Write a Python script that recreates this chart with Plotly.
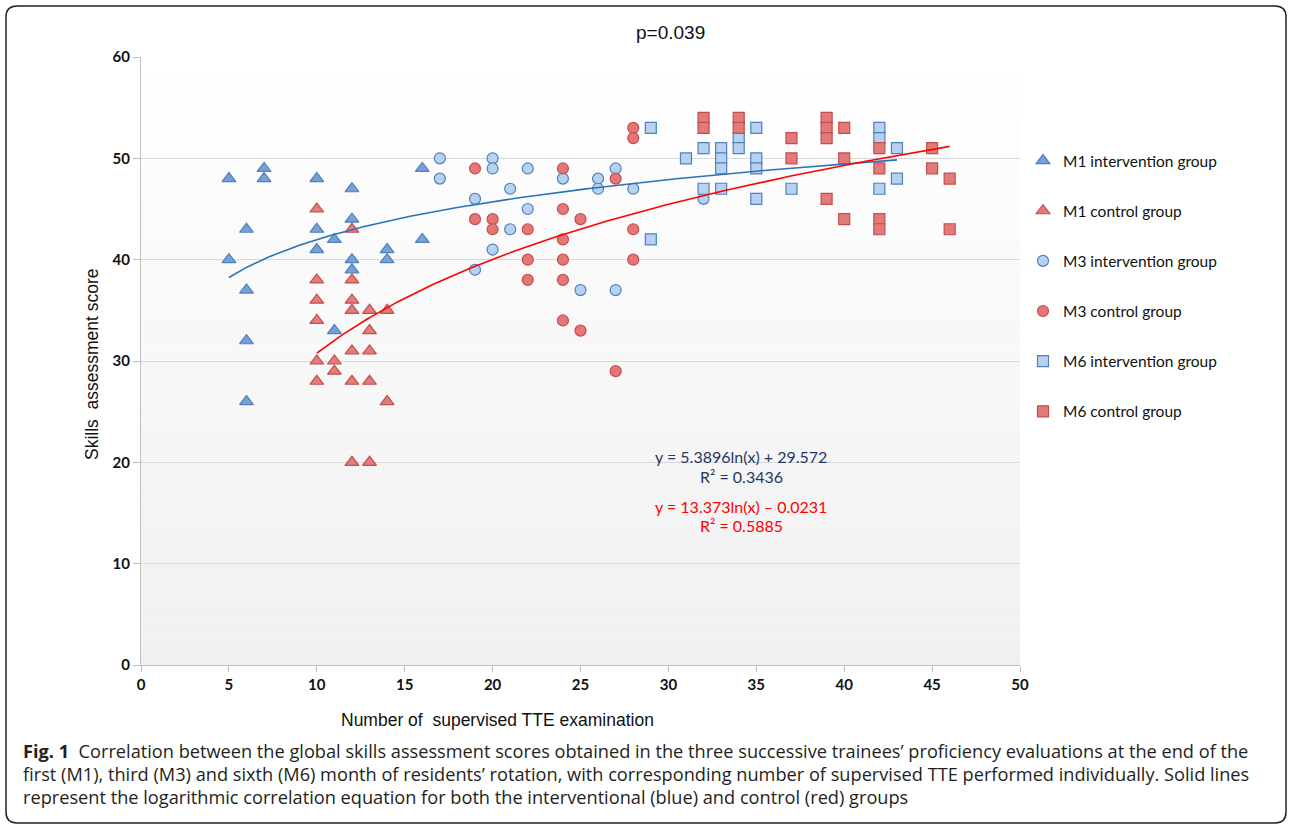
import numpy as np
import plotly.graph_objects as go

# ---------------- data ----------------
m1_int_x = [5, 7, 7, 10, 12, 6, 10, 12, 11, 10, 14, 14, 12, 12, 5, 6, 11, 6, 6, 16, 16]
m1_int_y = [48, 49, 48, 48, 47, 43, 43, 44, 42, 41, 41, 40, 40, 39, 40, 37, 33, 32, 26, 49, 42]

m1_ctl_x = [10, 12, 10, 12, 10, 12, 12, 13, 14, 10, 13, 12, 13, 10, 11, 11, 10, 12, 13, 14, 12, 13]
m1_ctl_y = [45, 43, 38, 38, 36, 36, 35, 35, 35, 34, 33, 31, 31, 30, 30, 29, 28, 28, 28, 26, 20, 20]

m3_int_x = [17, 17, 20, 20, 22, 19, 21, 22, 21, 20, 19, 24, 26, 26, 27, 28, 25, 27, 32]
m3_int_y = [50, 48, 50, 49, 49, 46, 47, 45, 43, 41, 39, 48, 48, 47, 49, 47, 37, 37, 46]

m3_ctl_x = [19, 24, 28, 28, 27, 19, 20, 20, 22, 24, 25, 28, 24, 22, 24, 28, 22, 24, 24, 25, 27]
m3_ctl_y = [49, 49, 53, 52, 48, 44, 44, 43, 43, 45, 44, 43, 42, 40, 40, 40, 38, 38, 34, 33, 29]

m6_int_x = [29, 29, 31, 32, 32, 33, 33, 33, 33, 34, 34, 35, 35, 35, 35, 37, 42, 42, 42, 43, 43]
m6_int_y = [53, 42, 50, 51, 47, 51, 50, 49, 47, 52, 51, 53, 50, 49, 46, 47, 53, 52, 47, 51, 48]

m6_ctl_x = [32, 32, 34, 34, 37, 37, 39, 39, 39, 40, 40, 39, 40, 42, 42, 42, 42, 45, 45, 46, 46]
m6_ctl_y = [54, 53, 54, 53, 52, 50, 54, 53, 52, 53, 50, 46, 44, 51, 49, 44, 43, 51, 49, 48, 43]

# logarithmic fits printed on the chart: y = a*ln(x) + b
int_fit_a, int_fit_b = 5.3896, 29.572
ctl_fit_a, ctl_fit_b = 13.373, -0.0231

x_ticks = [0, 5, 10, 15, 20, 25, 30, 35, 40, 45, 50]
y_ticks = [0, 10, 20, 30, 40, 50, 60]

series_names = ["M1 intervention group", "M1 control group", "M3 intervention group",
                "M3 control group", "M6 intervention group", "M6 control group"]

# ---------------- geometry helpers (pixels -> paper) ----------------
W, H = 1290, 828
L, R, T, B = 141, 270, 57, 163
PW, PH = W - L - R, H - T - B


def px(x):
    return (x - L) / PW


def py(y):
    return (H - B - y) / PH


BLUE_LINE = "#4f81bd"
RED_LINE = "#c0504d"

fig = go.Figure()

styles = [
    (m1_int_x, m1_int_y, "triangle-up", 12, "#77a1d6", BLUE_LINE),
    (m1_ctl_x, m1_ctl_y, "triangle-up", 12, "#e57b7b", RED_LINE),
    (m3_int_x, m3_int_y, "circle", 11, "#b7d1f0", BLUE_LINE),
    (m3_ctl_x, m3_ctl_y, "circle", 11, "#e67676", RED_LINE),
    (m6_int_x, m6_int_y, "square", 11, "#b7d1f0", BLUE_LINE),
    (m6_ctl_x, m6_ctl_y, "square", 11, "#e27a7a", RED_LINE),
]

for i, (xs, ys, sym, sz, fill, line) in enumerate(styles):
    fig.add_trace(go.Scatter(
        x=xs, y=ys, mode="markers", name=series_names[i],
        legendgroup=f"g{i}",
        marker=dict(symbol=sym, size=sz, color=fill, line=dict(color=line, width=1.2)),
    ))

# trend lines
xi = np.linspace(min(m1_int_x + m3_int_x + m6_int_x), max(m1_int_x + m3_int_x + m6_int_x), 200)
xc = np.linspace(min(m1_ctl_x + m3_ctl_x + m6_ctl_x), max(m1_ctl_x + m3_ctl_x + m6_ctl_x), 200)
fig.add_trace(go.Scatter(x=xi, y=int_fit_a * np.log(xi) + int_fit_b, mode="lines",
                         line=dict(color="#2b73b8", width=1.6), showlegend=False, hoverinfo="skip"))
fig.add_trace(go.Scatter(x=xc, y=ctl_fit_a * np.log(xc) + ctl_fit_b, mode="lines",
                         line=dict(color="#ff0000", width=1.6), showlegend=False, hoverinfo="skip"))

# background gradient inside plot area
shapes = []
n = 40
for k in range(n):
    t0 = k / n
    t1 = (k + 1) / n
    g = int(round(240 + (255 - 240) * (t0 + 0.5 / n)))
    shapes.append(dict(type="rect", xref="x domain", yref="y domain", x0=0, x1=1, y0=t0, y1=t1,
                       fillcolor=f"rgb({g},{g},{g})", line=dict(width=0), layer="below"))

# outer rounded border
x0b, x1b, y0b, y1b = px(6), px(1286), py(823), py(6)
rx, ry = 11 / PW, 11 / PH
path = (f"M {x0b + rx},{y1b} L {x1b - rx},{y1b} Q {x1b},{y1b} {x1b},{y1b - ry} "
        f"L {x1b},{y0b + ry} Q {x1b},{y0b} {x1b - rx},{y0b} "
        f"L {x0b + rx},{y0b} Q {x0b},{y0b} {x0b},{y0b + ry} "
        f"L {x0b},{y1b - ry} Q {x0b},{y1b} {x0b + rx},{y1b} Z")
shapes.append(dict(type="path", xref="paper", yref="paper", path=path,
                   line=dict(color="#222222", width=1.5), fillcolor="rgba(0,0,0,0)", layer="above"))


def ann(text, x, y, size, color, family="Lato", **kw):
    d = dict(text=text, x=px(x), y=py(y), xref="paper", yref="paper", showarrow=False,
             xanchor="center", yanchor="middle",
             font=dict(family=family, size=size, color=color))
    d.update(kw)
    return d


annotations = [
    ann("p=0.039", 670, 33, 19, "#111111", family="Liberation Sans"),
    ann("Skills\u00a0 assessment score", 92, 364, 17.5, "#111111", family="Liberation Sans",
        textangle=-90),
    ann("Number of\u00a0 supervised TTE examination", 497, 720, 17.5, "#111111",
        family="Liberation Sans"),
    ann("y = 5.3896ln(x) + 29.572", 741, 456, 16, "#1f3864"),
    ann("R² = 0.3436", 741, 476, 16, "#1f3864"),
    ann("y = 13.373ln(x) – 0.0231", 741, 506, 16, "#ff0000"),
    ann("R² = 0.5885", 741, 525, 16, "#ff0000"),
]

caption_lines = [
    "<b>Fig. 1</b>\u00a0 Correlation between the global skills assessment scores obtained in the three successive trainees’ proficiency evaluations at the end of the",
    "first (M1), third (M3) and sixth (M6) month of residents’ rotation, with corresponding number of supervised TTE performed individually. Solid lines",
    "represent the logarithmic correlation equation for both the interventional (blue) and control (red) groups",
]
for j, line in enumerate(caption_lines):
    annotations.append(ann(line, 21, 751 + 23 * j, 18.2, "#231f20", family="Open Sans",
                           xanchor="left", align="left"))

fig.update_layout(
    width=W, height=H,
    margin=dict(l=L, r=R, t=T, b=B, pad=0),
    paper_bgcolor="white", plot_bgcolor="white",
    showlegend=True,
    legend=dict(x=px(1023), y=py(144), xanchor="left", yanchor="top",
                font=dict(family="Lato", size=15.5, color="#111111"),
                tracegroupgap=27, itemwidth=30, bgcolor="rgba(0,0,0,0)"),
    shapes=shapes,
    annotations=annotations,
    xaxis=dict(range=[0, 50], tickvals=x_ticks, ticktext=[str(v) for v in x_ticks],
               showgrid=False, zeroline=False, showline=True, linecolor="#bfbfbf", linewidth=1,
               ticks="outside", ticklen=6, tickcolor="#bfbfbf",
               tickfont=dict(family="Lato", size=15, color="#111111", weight="bold")),
    yaxis=dict(range=[0, 60], tickvals=y_ticks, ticktext=[str(v) for v in y_ticks],
               showgrid=True, gridcolor="#d9d9d9", gridwidth=1, zeroline=False,
               showline=True, linecolor="#bfbfbf", linewidth=1,
               ticks="outside", ticklen=7, tickcolor="#bfbfbf",
               tickfont=dict(family="Lato", size=15, color="#111111", weight="bold")),
)

fig.write_html("out.html", config={"displayModeBar": False},
               post_script="document.body.style.margin='0';document.body.style.overflow='hidden';")
